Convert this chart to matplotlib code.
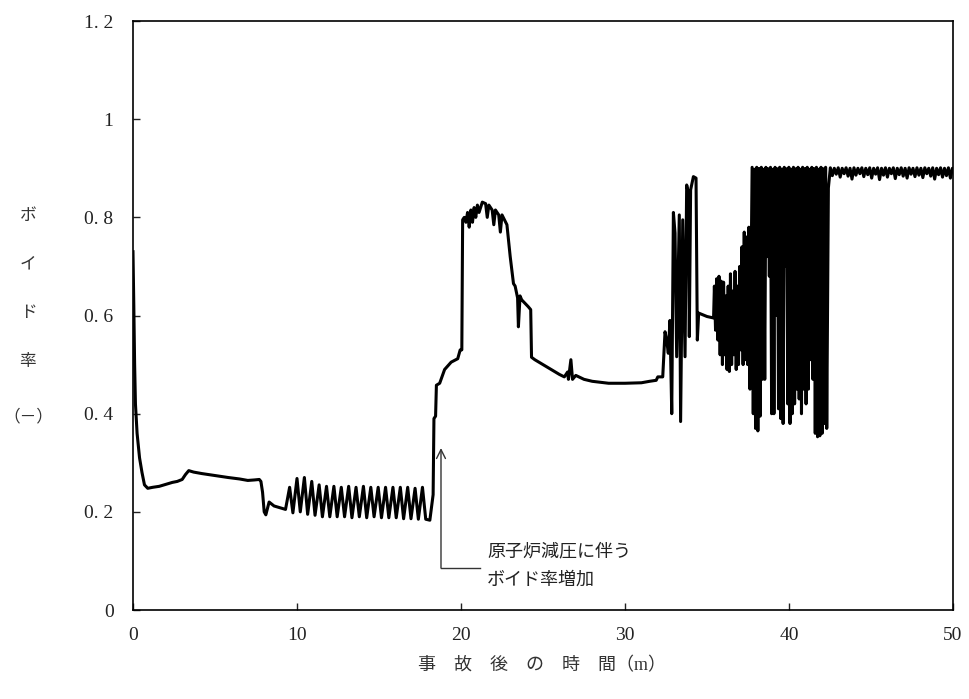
import numpy as np
import matplotlib
matplotlib.use('Agg')
import matplotlib.pyplot as plt

plt.rcParams['font.family'] = ['Liberation Serif', 'Noto Sans CJK JP', 'DejaVu Sans']
plt.rcParams['path.simplify'] = False

# void fraction vs time after accident (min)
t_early = [0.0, 0.05, 0.1, 0.15, 0.25, 0.4, 0.55, 0.7, 0.9, 1.2, 1.6, 2.0, 2.4, 2.7,
           3.0, 3.2, 3.4, 3.7, 4.2, 5.0, 5.8, 6.5, 7.0, 7.4, 7.7, 7.8, 7.9, 8.0,
           8.1, 8.3, 8.6, 9.0]
v_early = [0.73, 0.62, 0.50, 0.42, 0.36, 0.31, 0.28, 0.255, 0.248, 0.25, 0.252, 0.256,
           0.26, 0.262, 0.266, 0.276, 0.284, 0.281, 0.278, 0.274, 0.27, 0.267, 0.264,
           0.265, 0.266, 0.262, 0.24, 0.2, 0.194, 0.22, 0.212, 0.208]

t_osc = [9.3, 9.55, 9.75, 10.0, 10.2, 10.45, 10.65, 10.9, 11.1, 11.35, 11.55, 11.8,
         12.0, 12.25, 12.45, 12.7, 12.9, 13.15, 13.35, 13.6, 13.8, 14.05, 14.25, 14.5,
         14.7, 14.95, 15.15, 15.4, 15.6, 15.85, 16.05, 16.3, 16.5, 16.75, 16.95, 17.2,
         17.4, 17.65, 17.85, 18.1]
v_osc = [0.205, 0.25, 0.198, 0.268, 0.20, 0.27, 0.195, 0.262, 0.193, 0.255, 0.19, 0.252,
         0.19, 0.252, 0.19, 0.25, 0.19, 0.252, 0.188, 0.25, 0.19, 0.252, 0.188, 0.25,
         0.19, 0.25, 0.188, 0.25, 0.188, 0.25, 0.188, 0.25, 0.186, 0.25, 0.186, 0.248,
         0.185, 0.25, 0.185, 0.183]

t_rise = [18.3, 18.35, 18.45, 18.5, 18.7, 19.0, 19.4, 19.8, 19.95, 20.05, 20.1, 20.2,
          20.3, 20.4, 20.5, 20.6, 20.7, 20.8, 20.9, 21.0, 21.1, 21.3, 21.5, 21.6, 21.7,
          21.9, 22.0, 22.1, 22.3, 22.4, 22.5, 22.8, 23.0, 23.2, 23.3, 23.45, 23.5, 23.6,
          23.7, 24.1, 24.25, 24.3, 24.5, 25.0, 25.5, 26.0, 26.3, 26.5, 26.55, 26.7,
          26.8, 27.0, 27.5, 28.0, 29.0, 30.0, 31.0, 31.5, 31.9, 32.0, 32.3]
v_rise = [0.235, 0.39, 0.395, 0.458, 0.462, 0.49, 0.505, 0.512, 0.53, 0.53, 0.795, 0.80,
          0.79, 0.81, 0.78, 0.815, 0.79, 0.82, 0.80, 0.825, 0.81, 0.831, 0.828, 0.80,
          0.825, 0.815, 0.785, 0.815, 0.805, 0.77, 0.805, 0.785, 0.72, 0.665, 0.66,
          0.636, 0.577, 0.64, 0.632, 0.618, 0.612, 0.515, 0.51, 0.50, 0.49, 0.48, 0.475,
          0.485, 0.47, 0.51, 0.47, 0.478, 0.47, 0.466, 0.462, 0.462, 0.463, 0.466,
          0.468, 0.475, 0.475]

t_burst = [32.44, 32.54, 32.64, 32.74, 32.85, 32.95, 33.05, 33.15, 33.31, 33.39, 33.52,
           33.66, 33.76, 33.86, 33.92, 34.0, 34.17, 34.33, 34.41, 34.49, 35.0]
v_burst = [0.567, 0.55, 0.523, 0.59, 0.40, 0.81, 0.768, 0.516, 0.805, 0.384, 0.795,
           0.516, 0.866, 0.85, 0.557, 0.856, 0.883, 0.88, 0.55, 0.605, 0.598]

t_dense1 = [35.40, 35.45, 35.52, 35.59, 35.66, 35.73, 35.80, 35.87, 35.94, 36.01, 36.08,
            36.15, 36.22, 36.29, 36.36, 36.43, 36.50, 36.57, 36.64, 36.71, 36.78, 36.85,
            36.92, 36.99, 37.06, 37.13, 37.20, 37.27, 37.34, 37.41, 37.48, 37.55, 37.62]
v_dense1 = [0.595, 0.66, 0.57, 0.675, 0.55, 0.68, 0.52, 0.67, 0.50, 0.668, 0.52, 0.64,
            0.49, 0.66, 0.486, 0.685, 0.50, 0.65, 0.52, 0.69, 0.49, 0.66, 0.50, 0.70,
            0.53, 0.74, 0.50, 0.77, 0.51, 0.76, 0.50, 0.78, 0.45]

t_dense2 = [37.75, 37.82, 37.89, 37.96, 38.03, 38.10, 38.17, 38.24, 38.31, 38.38, 38.45,
            38.52, 38.59, 38.66, 38.73, 38.80, 38.87, 38.94, 39.01, 39.08, 39.15, 39.22,
            39.29, 39.36, 39.43, 39.50, 39.57, 39.64, 39.71, 39.78, 39.85, 39.92, 39.99,
            40.06, 40.13, 40.20, 40.27, 40.34, 40.41, 40.48, 40.55, 40.62, 40.69, 40.76,
            40.83, 40.90, 40.97, 41.04, 41.11, 41.18, 41.25, 41.32, 41.39, 41.46, 41.53,
            41.60, 41.67, 41.74, 41.81, 41.88, 41.95, 42.02, 42.09, 42.16, 42.23, 42.30]
v_dense2 = [0.902, 0.40, 0.898, 0.37, 0.902, 0.365, 0.899, 0.395, 0.902, 0.47, 0.898,
            0.47, 0.902, 0.72, 0.899, 0.68, 0.902, 0.40, 0.898, 0.40, 0.902, 0.60,
            0.899, 0.41, 0.902, 0.39, 0.898, 0.38, 0.902, 0.70, 0.899, 0.42, 0.902,
            0.38, 0.898, 0.40, 0.902, 0.42, 0.899, 0.45, 0.902, 0.43, 0.898, 0.40,
            0.902, 0.45, 0.899, 0.42, 0.902, 0.45, 0.898, 0.51, 0.902, 0.47, 0.899,
            0.36, 0.902, 0.353, 0.898, 0.355, 0.902, 0.36, 0.899, 0.38, 0.902, 0.37]

t_late = [42.40, 42.52, 42.64, 42.76, 42.88, 43.00, 43.12, 43.24, 43.36, 43.48,
          43.60, 43.72, 43.84, 43.96, 44.08, 44.20, 44.32, 44.44, 44.56, 44.68,
          44.80, 44.92, 45.04, 45.16, 45.28, 45.40, 45.52, 45.64, 45.76, 45.88,
          46.00, 46.12, 46.24, 46.36, 46.48, 46.60, 46.72, 46.84, 46.96, 47.08,
          47.20, 47.32, 47.44, 47.56, 47.68, 47.80, 47.92, 48.04, 48.16, 48.28,
          48.40, 48.52, 48.64, 48.76, 48.88, 49.00, 49.12, 49.24, 49.36, 49.48,
          49.60, 49.72, 49.84, 49.96, 50.0]
v_late = [0.86, 0.901, 0.885, 0.900, 0.888, 0.901, 0.882, 0.900, 0.889, 0.901,
          0.884, 0.900, 0.878, 0.901, 0.886, 0.900, 0.889, 0.901, 0.883, 0.900,
          0.887, 0.901, 0.880, 0.900, 0.888, 0.901, 0.877, 0.900, 0.886, 0.901,
          0.882, 0.900, 0.889, 0.901, 0.879, 0.900, 0.887, 0.901, 0.884, 0.900,
          0.880, 0.901, 0.888, 0.900, 0.883, 0.901, 0.886, 0.900, 0.881, 0.901,
          0.889, 0.900, 0.884, 0.901, 0.878, 0.900, 0.887, 0.901, 0.882, 0.900,
          0.885, 0.901, 0.880, 0.900, 0.899]

x_ticks = [0, 10, 20, 30, 40, 50]
y_ticks = [0, 0.2, 0.4, 0.6, 0.8, 1.0, 1.2]
y_tick_labels = ['0', '0. 2', '0. 4', '0. 6', '0. 8', '1', '1. 2']
y_label_chars = ['ボ', 'イ', 'ド', '率', '（－）']

t_all = np.concatenate([t_early, t_osc, t_rise, t_burst, t_dense1, t_dense2, t_late])
v_all = np.concatenate([v_early, v_osc, v_rise, v_burst, v_dense1, v_dense2, v_late])

fig = plt.figure(figsize=(9.7, 6.99), dpi=100)
ax = fig.add_axes([0.1371, 0.1273, 0.8454, 0.8426])

ax.plot(t_all, v_all, color='black', lw=2.2, solid_joinstyle='round')

ax.set_xlim(0, 50)
ax.set_ylim(0, 1.2)
ax.set_xticks(x_ticks)
ax.set_yticks(y_ticks)
ax.set_yticklabels(y_tick_labels)
ax.tick_params(direction='in', length=5, width=1, labelsize=14, colors='#222222')
ax.tick_params(axis='x', pad=12)
ax.tick_params(axis='y', pad=14)
for s in ax.spines.values():
    s.set_linewidth(1.2)

# arrow + leader for the depressurisation note
ax.annotate('', xy=(18.78, 0.33), xytext=(18.78, 0.0856),
            arrowprops=dict(arrowstyle='->', lw=1.0, color='#333333',
                            shrinkA=0, shrinkB=0, mutation_scale=16))
ax.plot([18.78, 21.16], [0.0856, 0.0856], color='#333333', lw=1.0)
ax.text(21.6, 0.118, '原子炉減圧に伴う', fontsize=13, va='center', ha='left', color='#222222')
ax.text(21.6, 0.061, 'ボイド率増加', fontsize=13, va='center', ha='left', color='#222222')

# stacked vertical y label
for ch, yp in zip(y_label_chars, [216, 264, 313, 362, 417]):
    fig.text(28 / 970, 1 - yp / 699, ch, fontsize=12, ha='center', va='center',
             color='#333333')

fig.text(542 / 970, 1 - 666 / 699, '事　故　後　の　時　間（m）', fontsize=13,
         ha='center', va='center', color='#333333')

plt.savefig('out.png', dpi=100)
